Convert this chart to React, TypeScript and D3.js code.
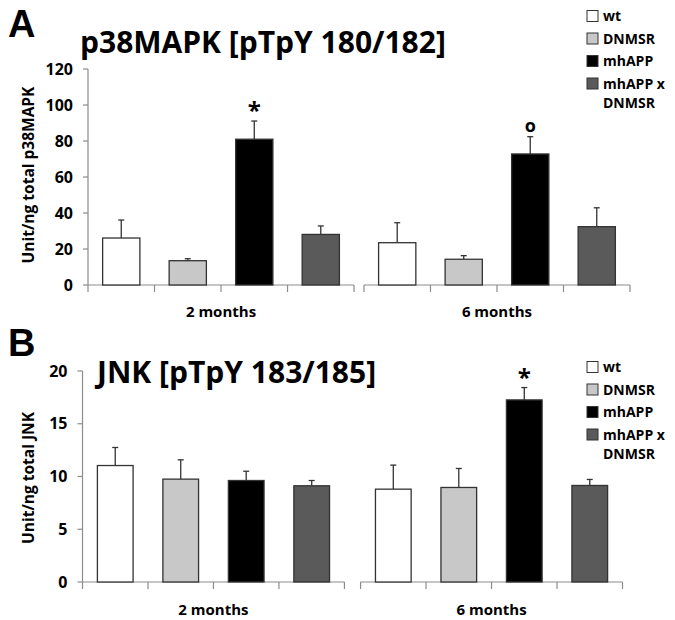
import * as d3 from 'd3';

// categories and series
const groups = ['2 months', '6 months'];
const series = ['wt', 'DNMSR', 'mhAPP', 'mhAPP x DNMSR'];
const legendLines = [['wt'], ['DNMSR'], ['mhAPP'], ['mhAPP x', 'DNMSR']];

// p38MAPK values (per group, per series)
const p38Mean = [
  [26.1, 13.5, 81.0, 28.1],
  [23.5, 14.3, 72.8, 32.4],
];
const p38Err = [
  [10.0, 1.1, 10.1, 4.7],
  [11.1, 2.0, 9.6, 10.5],
];
const p38Marks = [
  ['', '', '*', ''],
  ['', '', 'o', ''],
];
const p38Ticks = [0, 20, 40, 60, 80, 100, 120];

// JNK values
const jnkMean = [
  [11.04, 9.75, 9.62, 9.12],
  [8.8, 8.96, 17.26, 9.15],
];
const jnkErr = [
  [1.71, 1.83, 0.88, 0.5],
  [2.28, 1.8, 1.17, 0.57],
];
const jnkMarks = [
  ['', '', '', ''],
  ['', '', '*', ''],
];
const jnkTicks = [0, 5, 10, 15, 20];

const colors = ['#ffffff', '#c8c8c8', '#000000', '#5a5a5a'];
const font = "'Open Sans', sans-serif";
const axisColor = '#8c8c8c';
const edge = '#333333';

type Cfg = {
  letter: string;
  letterY: number;
  title: string;
  titleX: number;
  titleY: number;
  yLabel: string;
  yLabelMid: number;
  ticks: number[];
  y0: number;
  y1: number;
  x0: number;
  x1: number;
  groupPad: number;
  barPad: number;
  legendY: number;
  catY: number;
};

function Panel({ cfg, mean, err, marks }: { cfg: Cfg; mean: number[][]; err: number[][]; marks: string[][] }) {
  const yMax = cfg.ticks[cfg.ticks.length - 1];
  const y = d3.scaleLinear().domain([0, yMax]).range([cfg.y0, cfg.y1]);
  const outer = d3.scaleBand().domain(groups).range([cfg.x0, cfg.x1]).paddingInner(cfg.groupPad);
  const inner = d3
    .scaleBand()
    .domain(series)
    .range([0, outer.bandwidth()])
    .paddingInner(cfg.barPad)
    .paddingOuter(cfg.barPad / 2);
  const step = inner.step();
  const bw = inner.bandwidth();

  return (
    <g fontFamily={font} fontWeight={700}>
      <text x={8} y={cfg.letterY} fontSize={38} fontFamily="'Liberation Sans', Arial, sans-serif">
        {cfg.letter}
      </text>
      <text x={cfg.titleX} y={cfg.titleY} fontSize={30}>
        {cfg.title}
      </text>

      {/* y axis */}
      <line x1={cfg.x0} x2={cfg.x0} y1={y(0)} y2={y(yMax)} stroke={axisColor} strokeWidth={1.2} />
      {cfg.ticks.map(t => (
        <g key={t}>
          <line x1={cfg.x0 - 5} x2={cfg.x0} y1={y(t)} y2={y(t)} stroke={axisColor} strokeWidth={1.2} />
          <text x={cfg.x0 - 15} y={y(t)} dy="0.35em" textAnchor="end" fontSize={16}>
            {t}
          </text>
        </g>
      ))}
      <text
        transform={`translate(34,${cfg.yLabelMid}) rotate(-90)`}
        textAnchor="middle"
        fontSize={15.5}
      >
        {cfg.yLabel}
      </text>

      {/* groups */}
      {groups.map((g, gi) => {
        const gx = outer(g)!;
        return (
          <g key={g}>
            <line x1={gx} x2={gx + outer.bandwidth()} y1={y(0)} y2={y(0)} stroke={axisColor} strokeWidth={1.2} />
            {d3.range(series.length + 1).map(i => (
              <line
                key={i}
                x1={gx + i * step}
                x2={gx + i * step}
                y1={y(0)}
                y2={y(0) + 7}
                stroke={axisColor}
                strokeWidth={1.2}
              />
            ))}
            {series.map((s, si) => {
              const bx = gx + inner(s)!;
              const cx = bx + bw / 2;
              const v = mean[gi][si];
              const top = y(v + err[gi][si]);
              const mk = marks[gi][si];
              return (
                <g key={s}>
                  <line x1={cx} x2={cx} y1={y(v)} y2={top} stroke={edge} strokeWidth={1.3} />
                  <line x1={cx - 3} x2={cx + 3} y1={top} y2={top} stroke={edge} strokeWidth={1.3} />
                  <rect
                    x={bx}
                    y={y(v)}
                    width={bw}
                    height={y(0) - y(v)}
                    fill={colors[si]}
                    stroke={edge}
                    strokeWidth={1.3}
                  />
                  {mk === '*' && (
                    <text x={cx} y={top - 2} textAnchor="middle" fontSize={24}>
                      *
                    </text>
                  )}
                  {mk === 'o' && (
                    <text x={cx} y={top - 5} textAnchor="middle" fontSize={18}>
                      o
                    </text>
                  )}
                </g>
              );
            })}
            <text x={gx + outer.bandwidth() / 2} y={cfg.catY} textAnchor="middle" fontSize={15}>
              {g}
            </text>
          </g>
        );
      })}

      {/* legend */}
      {legendLines.map((lines, i) => {
        const ly = cfg.legendY + i * 22.5;
        return (
          <g key={i}>
            <rect x={587} y={ly - 5.5} width={11} height={11} fill={colors[i]} stroke={edge} strokeWidth={1} />
            {lines.map((t, k) => (
              <text key={k} x={603} y={ly + k * 19.5} dy="0.36em" fontSize={14}>
                {t}
              </text>
            ))}
          </g>
        );
      })}
    </g>
  );
}

const cfgA: Cfg = {
  letter: 'A',
  letterY: 37,
  title: 'p38MAPK [pTpY 180/182]',
  titleX: 80,
  titleY: 53,
  yLabel: 'Unit/ng total p38MAPK',
  yLabelMid: 175,
  ticks: p38Ticks,
  y0: 285,
  y1: 69,
  x0: 88,
  x1: 630,
  groupPad: 0.036,
  barPad: 0.44,
  legendY: 16,
  catY: 317,
};

const cfgB: Cfg = {
  letter: 'B',
  letterY: 356,
  title: 'JNK [pTpY 183/185]',
  titleX: 97,
  titleY: 383,
  yLabel: 'Unit/ng total JNK',
  yLabelMid: 478,
  ticks: jnkTicks,
  y0: 582,
  y1: 371,
  x0: 82.5,
  x1: 622.5,
  groupPad: 0.058,
  barPad: 0.455,
  legendY: 367,
  catY: 615,
};

export default function App() {
  return (
    <svg
      width={675}
      height={620}
      style={{ position: 'absolute', left: 0, top: 0, background: '#fff' }}
    >
      <rect width={675} height={620} fill="#fff" />
      <Panel cfg={cfgA} mean={p38Mean} err={p38Err} marks={p38Marks} />
      <Panel cfg={cfgB} mean={jnkMean} err={jnkErr} marks={jnkMarks} />
    </svg>
  );
}
